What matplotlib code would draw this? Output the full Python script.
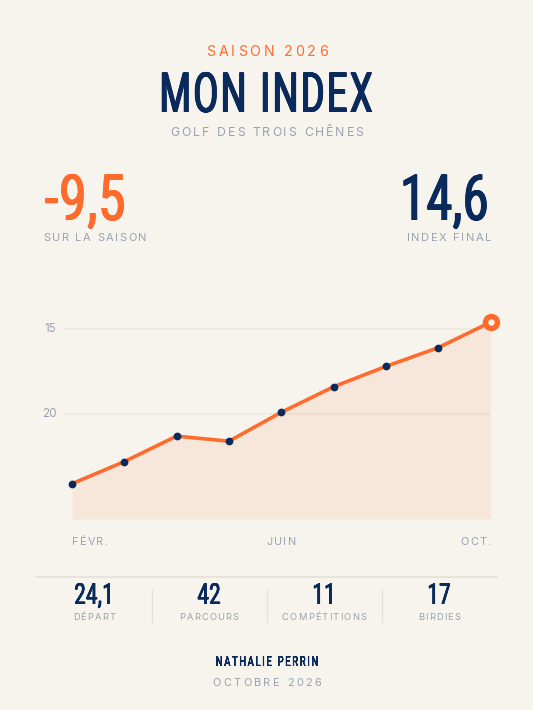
import matplotlib
matplotlib.use("Agg")
import matplotlib.pyplot as plt
from matplotlib.text import Text
from matplotlib.textpath import TextPath
from matplotlib.patches import PathPatch
from matplotlib.transforms import IdentityTransform, Bbox, Affine2D

months = ["Févr.", "Mars", "Avr.", "Mai", "Juin", "Juil.", "Août", "Sept.", "Oct."]
index_values = [24.1, 22.8, 21.3, 21.6, 19.9, 18.4, 17.2, 16.1, 14.6]
y_ticks = [15, 20]
x_tick_positions = [0, 4, 8]
x_tick_labels = ["FÉVR.", "JUIN", "OCT."]
stat_values = ["24,1", "42", "11", "17"]
stat_labels = ["DÉPART", "PARCOURS", "COMPÉTITIONS", "BIRDIES"]

BG = "#F7F4EE"
ORANGE = "#FF6B2C"
NAVY = "#0A2A5C"
GRAY = "#9AA1B0"
GRID = "#ECE8DF"
W, H = 533, 710
COND = ["Roboto", "DejaVu Sans"]
BODY = ["Inter", "Lato", "DejaVu Sans"]


class SpacedText(Text):
    """Text with letter spacing (pixels), horizontal condensing and stem thickening."""

    def __init__(self, *args, spacing=0.0, xscale=1.0, stem=0.0, **kwargs):
        super().__init__(*args, **kwargs)
        self._spacing = spacing
        self._xscale = xscale
        self._stem = stem

    def _layout_chars(self, renderer):
        s = self.get_text()
        fp = self.get_fontproperties()
        k = self._xscale
        width = lambda t: k * renderer.get_text_width_height_descent(t, fp, False)[0] if t else 0.0
        total = width(s) + self._spacing * (len(s) - 1)
        x, y = self.get_transform().transform(self.get_position())
        ha = self.get_ha()
        x0 = x - (total / 2 if ha == "center" else total if ha == "right" else 0)
        return [(c, x0 + width(s[:i]) + i * self._spacing, y) for i, c in enumerate(s)], x0, total, y

    def draw(self, renderer):
        if not self.get_visible():
            return
        fig = self.get_figure()
        fp = self.get_fontproperties()
        for c, cx, cy in self._layout_chars(renderer)[0]:
            if c == " ":
                continue
            if self._xscale == 1.0:
                t = Text(cx, cy, c, fontproperties=fp, color=self.get_color(),
                         transform=IdentityTransform(), ha="left", va="baseline")
                t.set_figure(fig)
                t.draw(renderer)
            else:
                size_px = fp.get_size_in_points() * fig.dpi / 72
                path = TextPath((0, 0), c, size=size_px, prop=fp)
                n = 7
                for j in range(n):
                    dx = self._stem * size_px * (j / (n - 1) - 0.5)
                    tr = Affine2D().scale(self._xscale, 1).translate(cx + dx, cy)
                    patch = PathPatch(path, facecolor=self.get_color(), edgecolor="none", lw=0, transform=tr)
                    patch.set_figure(fig)
                    patch.set_snap(False)
                    patch.draw(renderer)

    def get_window_extent(self, renderer=None, dpi=None):
        renderer = renderer or self.get_figure().canvas.get_renderer()
        _, x0, total, y = self._layout_chars(renderer)
        h = self.get_fontproperties().get_size_in_points() * self.get_figure().dpi / 72
        return Bbox([[x0, y - 0.2 * h], [x0 + total, y + 0.8 * h]])


fig = plt.figure(figsize=(W / 100, H / 100), dpi=100, facecolor=BG)


def label(px, py, s, size, color, family, ha="center", spacing=0.0, xscale=1.0, stem=0.0):
    t = SpacedText(px / W, 1 - py / H, s, spacing=spacing, xscale=xscale, stem=stem, transform=fig.transFigure,
                   ha=ha, va="baseline", fontsize=size, color=color, family=family)
    fig.add_artist(t)
    return t


# Chart axes: left/right at first/last month, bottom at filled-area base
L, R, T, B = 72.0, 490.5, 300.0, 519.0
ax = fig.add_axes([L / W, 1 - B / H, (R - L) / W, (B - T) / H])
ax.set_facecolor("none")
ax.set_xlim(0, len(months) - 1)
ax.set_ylim(15 + (B - 329) / 17, 15 + (T - 329) / 17)
for sp in ax.spines.values():
    sp.set_visible(False)
ax.tick_params(length=0)
ax.set_xticks([])
ax.set_yticks([])

xs = list(range(len(months)))
base = ax.get_ylim()[0]
for v in y_ticks:
    ax.plot([-8 / ((R - L) / 8), xs[-1]], [v, v], color=GRID, lw=1.2, clip_on=False, zorder=1, solid_capstyle="butt")
    ax.annotate(str(v), (0, v), xytext=(-15.5, 0), textcoords="offset pixels", ha="right", va="center",
                fontsize=8.4, color=GRAY, family=BODY, annotation_clip=False)
ax.fill_between(xs, index_values, base, color=ORANGE, alpha=0.10, lw=0, zorder=2)
ax.plot(xs, index_values, color=ORANGE, lw=2.6, zorder=3, solid_joinstyle="round", clip_on=False)
ax.plot(xs[:-1], index_values[:-1], ls="none", marker="o", ms=5.6, mfc=NAVY, mec=NAVY, mew=0, zorder=4, clip_on=False)
ax.plot(xs[-1:], index_values[-1:], ls="none", marker="o", ms=8.6, mfc=BG, mec=ORANGE, mew=3.9, zorder=5, clip_on=False)

for p, s in zip(x_tick_positions, x_tick_labels):
    ha = "left" if p == 0 else "right" if p == xs[-1] else "center"
    px = L + (R - L) * p / xs[-1]
    label(px, 545, s, 7.8, GRAY, BODY, ha=ha, spacing=1.3)

# Header
label(267, 56, "SAISON 2026", 10.2, ORANGE, BODY, spacing=2.9)
label(266, 112, "MON INDEX", 40, NAVY, COND, spacing=2.6, xscale=0.645, stem=0.03)
label(267, 136, "GOLF DES TROIS CHÊNES", 8.8, GRAY, BODY, spacing=2.0)

# Headline figures
label(45, 220, "-9,5", 46, ORANGE, COND, ha="left", spacing=1.8, xscale=0.73, stem=0.03)
label(43, 241, "SUR LA SAISON", 8.0, GRAY, BODY, ha="left", spacing=1.6)
label(488, 220, "14,6", 46, NAVY, COND, ha="right", spacing=1.5, xscale=0.69, stem=0.03)
label(491, 241, "INDEX FINAL", 8.0, GRAY, BODY, ha="right", spacing=1.6)

# Footer stats
fig.add_artist(plt.Line2D([36 / W, 497 / W], [1 - 576.5 / H] * 2, color="#E4E0D6", lw=1.1, transform=fig.transFigure))
for sx in (151.5, 266.5, 381.5):
    fig.add_artist(plt.Line2D([sx / W] * 2, [1 - 590 / H, 1 - 622 / H], color="#E4E0D6", lw=0.9, transform=fig.transFigure))
for cx, v, s in zip((94, 209, 324, 439), stat_values, stat_labels):
    label(cx, 604, v, 21, NAVY, COND, spacing=0.6, xscale=0.68, stem=0.03)
    label(cx, 620, s, 6.7, GRAY, BODY, spacing=1.2)

label(267, 666, "NATHALIE PERRIN", 10, NAVY, COND, spacing=1.7, xscale=0.68, stem=0.02)
label(267, 686, "OCTOBRE 2026", 7.9, GRAY, BODY, spacing=2.3)

fig.savefig("out.png", dpi=100, facecolor=BG)
